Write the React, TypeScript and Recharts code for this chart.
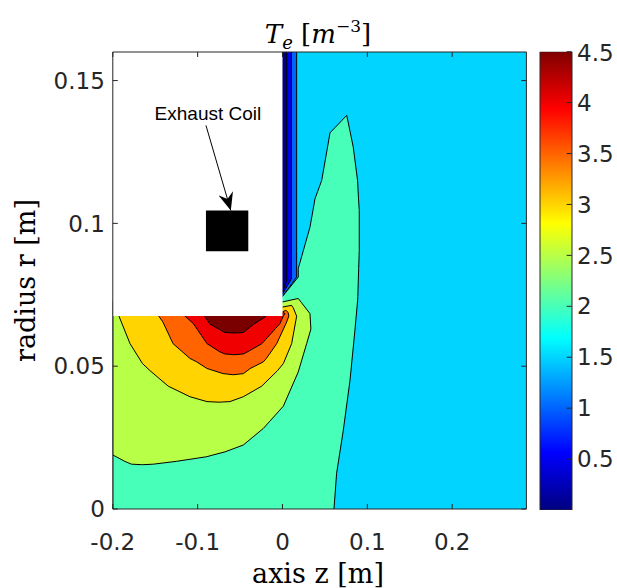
import { ComposedChart, Area, Line, Bar, XAxis, YAxis, LabelList } from "recharts";

// axes
const zDomain = [-0.2, 0.2875];
const rDomain = [0, 0.16];
const zTicks = [-0.2, -0.1, 0, 0.1, 0.2];
const rTicks = [0, 0.05, 0.1, 0.15];
const cbRange = [0, 4.5];
const cbTicks = [0.5, 1, 1.5, 2, 2.5, 3, 3.5, 4, 4.5];

// filled contour regions, one row per vertex: [r, z left, z right]
type Band = [number, number, number][];

const level15: Band = [
  [0, -0.2, 0.2875],
  [0.16, -0.2, 0.2875],
];

const below15: Band = [
  [0.0744, -0.01, 0],
  [0.0812, -0.01, 0.0167],
  [0.16, -0.01, 0.0167],
];

const below10: Band = [
  [0.0752, -0.01, 0],
  [0.0806, -0.01, 0.0105],
  [0.16, -0.01, 0.0105],
];

const below05: Band = [
  [0.076, -0.01, 0],
  [0.08, -0.01, 0.005],
  [0.16, -0.01, 0.005],
];

const level20: Band = [
  [0, -0.2, 0.0607],
  [0.0125, -0.2, 0.0638],
  [0.0276, -0.2, 0.0717],
  [0.0451, -0.2, 0.0796],
  [0.0626, -0.2, 0.0854],
  [0.0731, -0.2, 0.0886],
  [0.0744, 0, 0.0888],
  [0.0812, 0.0186, 0.0895],
  [0.0842, 0.0186, 0.0898],
  [0.0906, 0.0247, 0.0905],
  [0.0987, 0.0324, 0.0905],
  [0.1045, 0.0359, 0.0905],
  [0.1086, 0.0383, 0.0896],
  [0.115, 0.0462, 0.0885],
  [0.1267, 0.0531, 0.0834],
  [0.1317, 0.056, 0.08],
  [0.1378, 0.0757, 0.0757],
];

const level25: Band = [
  [0.0155, -0.165, -0.165],
  [0.0157, -0.178, -0.152],
  [0.0167, -0.186, -0.1247],
  [0.0183, -0.196, -0.0893],
  [0.0189, -0.2, -0.082],
  [0.02, -0.2, -0.0678],
  [0.0224, -0.2, -0.0462],
  [0.0282, -0.2, -0.0226],
  [0.036, -0.2, 0.001],
  [0.048, -0.2, 0.0186],
  [0.0579, -0.2, 0.0285],
  [0.063, -0.2, 0.0335],
  [0.0684, -0.2, 0.0324],
  [0.0724, -0.2, 0.022],
  [0.0725, 0, 0.0217],
  [0.0737, 0.0186, 0.0186],
];

const level30: Band = [
  [0.0374, -0.075, -0.075],
  [0.0376, -0.089, -0.062],
  [0.0393, -0.109, -0.0462],
  [0.043, -0.1346, -0.0245],
  [0.0484, -0.156, -0.006],
  [0.0509, -0.165, 0.001],
  [0.0579, -0.1797, 0.0108],
  [0.0675, -0.1927, 0.0167],
  [0.0706, -0.2, 0.0125],
  [0.0707, 0, 0.012],
  [0.0713, 0.0108, 0.0108],
];

const level35: Band = [
  [0.047, -0.058, -0.058],
  [0.0474, -0.07, -0.046],
  [0.0492, -0.089, -0.038],
  [0.0515, -0.101, -0.0226],
  [0.0527, -0.109, -0.019],
  [0.0579, -0.129, -0.0068],
  [0.0655, -0.141, 0.005],
  [0.0676, -0.146, 0.0075],
  [0.0689, -0.15, 0.0065],
  [0.069, 0, 0.006],
  [0.0696, 0.004, 0.004],
];

const level40: Band = [
  [0.054, -0.057, -0.057],
  [0.0543, -0.068, -0.046],
  [0.055, -0.0737, -0.0414],
  [0.0579, -0.089, -0.0242],
  [0.0649, -0.105, -0.003],
  [0.0676, -0.115, 0.001],
  [0.0684, -0.12, 0.003],
  [0.0685, 0, 0.0025],
  [0.0688, 0.0015, 0.0015],
];

const level45: Band = [
  [0.0616, -0.057, -0.057],
  [0.0618, -0.0678, -0.046],
  [0.0647, -0.0854, -0.034],
  [0.0672, -0.091, -0.0206],
  [0.068, -0.093, -0.019],
];

// blanked-out region and the coil
const mask: Band = [
  [0.0676, -0.2, 0],
  [0.16, -0.2, 0],
];

const coil: Band = [
  [0.0902, -0.0902, -0.0403],
  [0.1045, -0.0902, -0.0403],
];

const arrowR = [0.1343, 0.1045];
const arrowZ = [-0.0902, -0.0609];
const arrowNote = ["Exhaust Coil", ""];

const regions: { key: string; rows: Band; fill: string; edge: boolean }[] = [
  { key: "l15", rows: level15, fill: "#00d4ff", edge: false },
  { key: "b15", rows: below15, fill: "#0064ff", edge: true },
  { key: "b10", rows: below10, fill: "#0000f1", edge: true },
  { key: "b05", rows: below05, fill: "#000080", edge: true },
  { key: "l20", rows: level20, fill: "#47ffb8", edge: true },
  { key: "l25", rows: level25, fill: "#b8ff47", edge: true },
  { key: "l30", rows: level30, fill: "#ffd400", edge: true },
  { key: "l35", rows: level35, fill: "#ff6400", edge: true },
  { key: "l40", rows: level40, fill: "#f00000", edge: true },
  { key: "l45", rows: level45, fill: "#7a0000", edge: true },
  { key: "mask", rows: mask, fill: "#ffffff", edge: false },
  { key: "coil", rows: coil, fill: "#000000", edge: false },
];

// one shared table; a row belongs to one region, the others get [null, null] so each path breaks there
function emptyRow(r: number): Record<string, unknown> {
  const row: Record<string, unknown> = { r, arrow: null, note: "" };
  regions.forEach((g) => (row[g.key] = [null, null]));
  return row;
}

const table: Record<string, unknown>[] = [];
regions.forEach((g) => {
  g.rows.forEach(([r, a, b]) => {
    const row = emptyRow(r);
    row[g.key] = [a, b];
    table.push(row);
  });
});
arrowR.forEach((r, i) => {
  const row = emptyRow(r);
  row.arrow = arrowZ[i];
  row.note = arrowNote[i];
  table.push(row);
});

const jetStops: [number, string][] = [
  [0, "#000080"],
  [0.125, "#0000ff"],
  [0.375, "#00ffff"],
  [0.625, "#ffff00"],
  [0.875, "#ff0000"],
  [1, "#800000"],
];

const cbData = [{ k: "cb", range: cbRange }];

const axisColor = "#262626";
const tickFont = { fill: axisColor, fontSize: 23, fontFamily: "DejaVu Sans" };
const blank = () => "";

function NoteLabel(props: any) {
  const { x, y, value } = props;
  if (!value || x == null || y == null) return null;
  return (
    <text x={x + 2} y={y - 5} textAnchor="middle" fontFamily="Liberation Sans" fontSize={19} fill="#000">
      {value}
    </text>
  );
}

export default function App() {
  return (
    <div style={{ position: "absolute", left: 0, top: 0, width: 617, height: 588, background: "#fff" }}>
      <div style={{ position: "absolute", left: 0, top: 0 }}>
        <ComposedChart
          layout="vertical"
          width={617}
          height={588}
          data={table}
          margin={{ top: 51, right: 89.6, bottom: 39, left: 52.8 }}
        >
          <defs>
            <marker
              id="arrowHead"
              markerUnits="userSpaceOnUse"
              markerWidth={18}
              markerHeight={15}
              refX={18}
              refY={7.5}
              orient="auto"
            >
              <path d="M18,7.5 L0,0 L6,7.5 L0,15 Z" fill="#000" />
            </marker>
          </defs>
          {regions.map((g) => (
            <Area
              key={g.key}
              dataKey={g.key}
              xAxisId="bottom"
              yAxisId="left"
              type="linear"
              fill={g.fill}
              fillOpacity={1}
              stroke={g.edge ? "#000" : "none"}
              strokeWidth={1}
              dot={false}
              activeDot={false}
              isAnimationActive={false}
            />
          ))}
          <Line
            dataKey="arrow"
            xAxisId="bottom"
            yAxisId="left"
            type="linear"
            stroke="#000"
            strokeWidth={1}
            dot={false}
            activeDot={false}
            markerEnd="url(#arrowHead)"
            isAnimationActive={false}
          >
            <LabelList dataKey="note" content={NoteLabel} />
          </Line>
          <XAxis
            xAxisId="bottom"
            type="number"
            domain={zDomain}
            ticks={zTicks}
            allowDataOverflow
            height={40}
            stroke={axisColor}
            tickSize={-5}
            tickMargin={30}
            tick={tickFont}
          />
          <XAxis
            xAxisId="top"
            orientation="top"
            type="number"
            domain={zDomain}
            ticks={zTicks}
            allowDataOverflow
            height={1}
            stroke={axisColor}
            tickSize={-5}
            tickFormatter={blank}
          />
          <YAxis
            yAxisId="left"
            dataKey="r"
            type="number"
            reversed
            domain={rDomain}
            ticks={rTicks}
            allowDataOverflow
            width={60}
            stroke={axisColor}
            tickSize={-5}
            tickMargin={13}
            tick={tickFont}
          />
          <YAxis
            yAxisId="right"
            orientation="right"
            dataKey="r"
            type="number"
            reversed
            domain={rDomain}
            ticks={rTicks}
            allowDataOverflow
            width={1}
            stroke={axisColor}
            tickSize={-5}
            tickFormatter={blank}
          />
        </ComposedChart>
      </div>

      <div style={{ position: "absolute", left: 530, top: 40 }}>
        <ComposedChart
          width={87}
          height={480}
          data={cbData}
          barCategoryGap={0}
          margin={{ top: 11.7, right: 0, bottom: 10, left: 10 }}
        >
          <defs>
            <linearGradient id="jetGrad" x1="0" y1="1" x2="0" y2="0">
              {jetStops.map(([t, c]) => (
                <stop key={t} offset={t} stopColor={c} />
              ))}
            </linearGradient>
          </defs>
          <XAxis dataKey="k" type="category" hide />
          <YAxis
            orientation="right"
            type="number"
            domain={cbRange}
            ticks={cbTicks}
            allowDataOverflow
            width={45.3}
            axisLine={false}
            stroke={axisColor}
            tickSize={-5}
            tickMargin={10.3}
            tick={tickFont}
          />
          <Bar dataKey="range" fill="url(#jetGrad)" stroke={axisColor} strokeWidth={1} isAnimationActive={false} />
        </ComposedChart>
      </div>

      <svg
        width={617}
        height={588}
        style={{ position: "absolute", left: 0, top: 0, pointerEvents: "none" }}
      >
        <text x={318} y={43} textAnchor="middle" fontFamily="DejaVu Serif" fontSize={26} fill="#000">
          <tspan fontStyle="italic">T</tspan>
          <tspan fontStyle="italic" fontSize={18} dy={6}>e</tspan>
          <tspan dy={-6}>{"\u00a0["}</tspan>
          <tspan fontStyle="italic">m</tspan>
          <tspan fontSize={17} dy={-11}>{"\u22123"}</tspan>
          <tspan dy={11}>]</tspan>
        </text>
        <text x={318} y={583} textAnchor="middle" fontFamily="DejaVu Serif" fontSize={27} fill="#000">
          axis z [m]
        </text>
        <text
          transform="translate(35,280.5) rotate(-90)"
          textAnchor="middle"
          fontFamily="DejaVu Serif"
          fontSize={27}
          fill="#000"
        >
          radius r [m]
        </text>
      </svg>
    </div>
  );
}
